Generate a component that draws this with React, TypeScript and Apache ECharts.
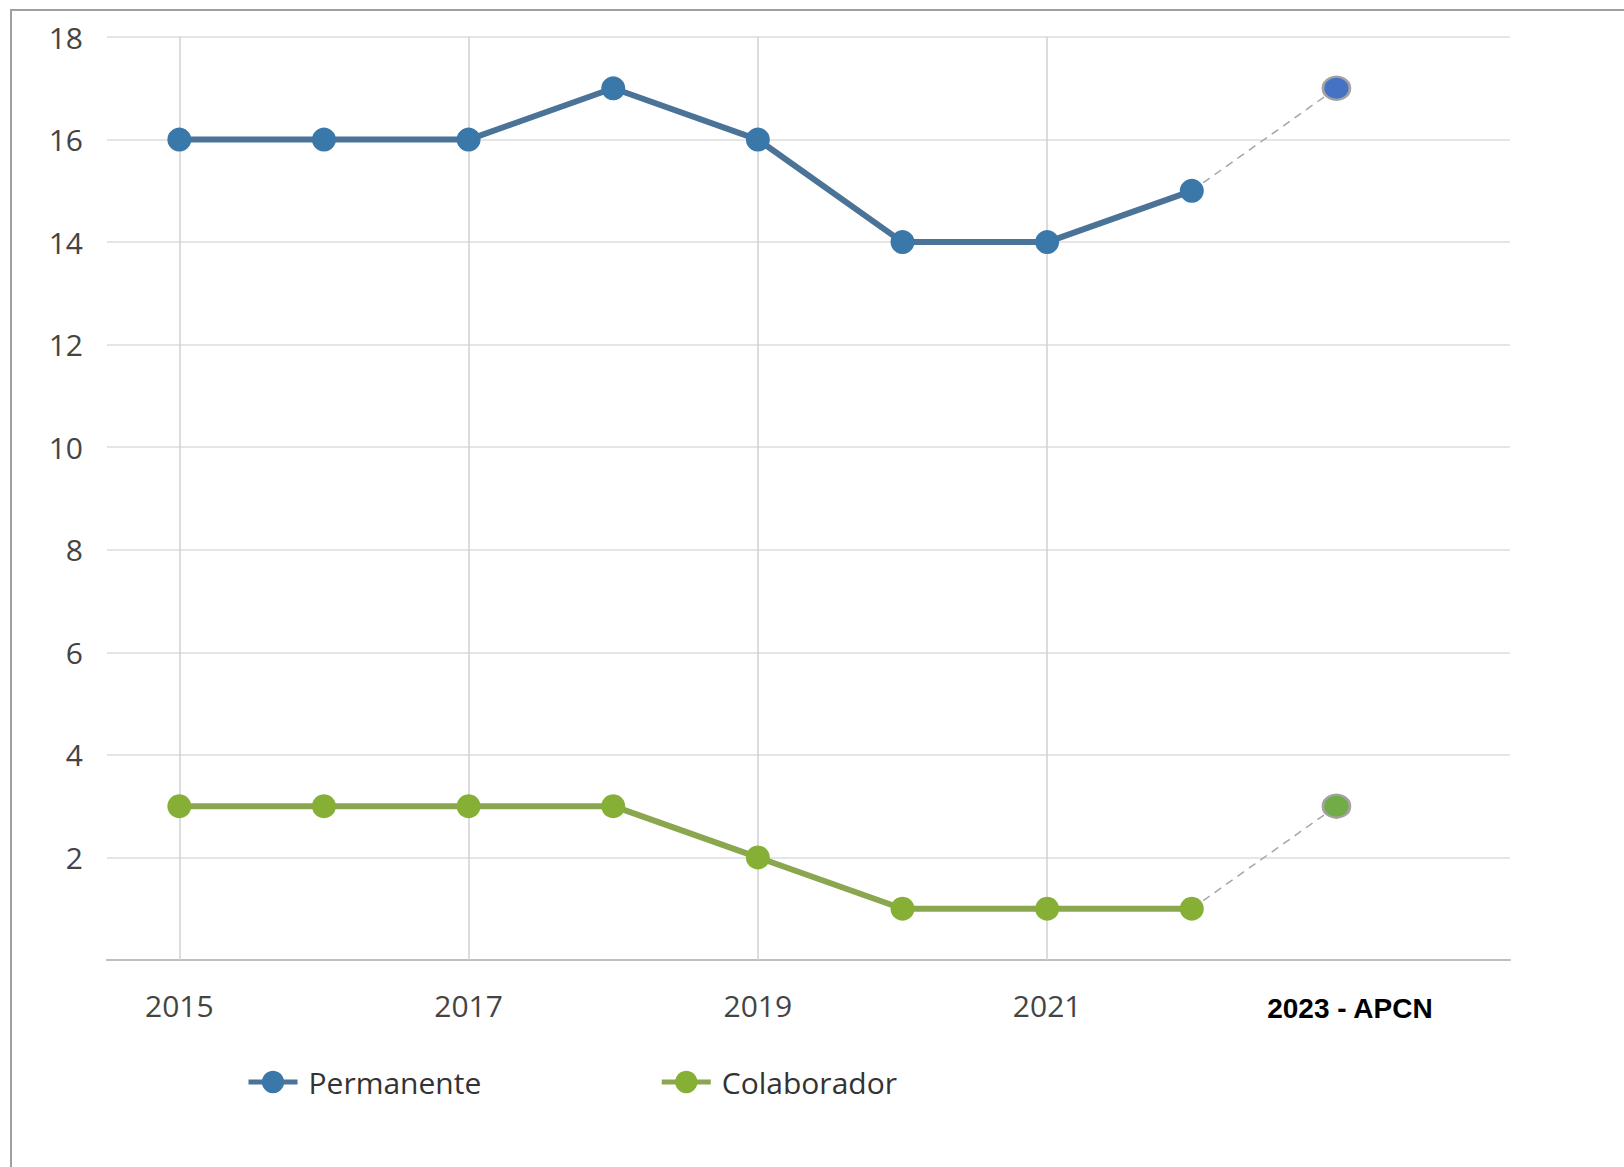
import React, { useEffect, useRef } from "react";
import * as echarts from "echarts";

const years = [2015, 2016, 2017, 2018, 2019, 2020, 2021, 2022];
const permanente = [16, 16, 16, 17, 16, 14, 14, 15];
const colaborador = [3, 3, 3, 3, 2, 1, 1, 1];
const projectionYear = 2023;
const permanente2023 = 17;
const colaborador2023 = 3;
const xLabelYears = [2015, 2017, 2019, 2021, 2023];
const gridYears = [2015, 2017, 2019, 2021];
const projectionLabel = "2023 - APCN";

const FONT = "'Open Sans', 'DejaVu Sans', sans-serif";

export default function App() {
  const ref = useRef<HTMLDivElement>(null);

  useEffect(() => {
    if (!ref.current) return;
    const chart = echarts.init(ref.current, null, { renderer: "svg" });
    const pairs = (vals: number[]) => years.map((y, i) => [y, vals[i]]);
    const projection = (lastVal: number, val: number, color: string) => [
      { value: [years[years.length - 1], lastVal], symbol: "none" },
      {
        value: [projectionYear, val],
        symbol: "circle",
        symbolSize: [27, 23],
        itemStyle: { color, borderColor: "#a3a3a3", borderWidth: 2.5 },
      },
    ];
    chart.setOption({
      animation: false,
      textStyle: { fontFamily: FONT },
      graphic: [
        {
          type: "rect",
          shape: { x: 11, y: 10, width: 1700, height: 1300 },
          style: { fill: "none", stroke: "#a0a0a0", lineWidth: 2 },
          silent: true,
          z: -10,
        },
      ],
      grid: { left: 107, right: 114, top: 37, bottom: 207, containLabel: false },
      legend: {
        data: ["Permanente", "Colaborador"],
        left: 246,
        top: 1067,
        padding: 0,
        itemWidth: 49,
        itemHeight: 28,
        itemGap: 178,
        lineStyle: { width: 5 },
        textStyle: { fontSize: 30, color: "#333", fontFamily: FONT, padding: [0, 0, 0, 6] },
      },
      xAxis: {
        type: "value",
        min: 2014.5,
        max: 2024.2,
        axisLine: { show: true, lineStyle: { color: "#bdbdbd", width: 2 } },
        axisTick: { show: false, customValues: xLabelYears },
        splitLine: { show: false },
        axisLabel: {
          customValues: xLabelYears,
          margin: 30,
          fontSize: 30,
          color: "#444",
          fontFamily: FONT,
          formatter: (v: number) =>
            v === projectionYear ? "{b|" + projectionLabel + "}" : String(v),
          rich: {
            b: {
              fontSize: 28,
              fontWeight: "bold",
              color: "#000",
              fontFamily: "'Liberation Sans', 'Open Sans', sans-serif",
              padding: [4, 0, 0, 27],
            },
          },
        },
      },
      yAxis: {
        type: "value",
        min: 0,
        max: 18,
        interval: 2,
        axisLine: { show: false },
        axisTick: { show: false },
        splitLine: { lineStyle: { color: "#dcdcdc", width: 1.5 } },
        axisLabel: {
          showMinLabel: false,
          margin: 24,
          fontSize: 30,
          color: "#444",
          fontFamily: FONT,
        },
      },
      series: [
        {
          name: "gridYears",
          type: "line",
          data: [],
          z: 0,
          silent: true,
          markLine: {
            silent: true,
            symbol: "none",
            label: { show: false },
            lineStyle: { color: "#d0d0d0", width: 1.5, type: "solid" },
            data: gridYears.map((y) => ({ xAxis: y })),
          },
        },
        {
          name: "Permanente",
          type: "line",
          data: pairs(permanente),
          symbol: "circle",
          symbolSize: 24,
          lineStyle: { color: "#4a7397", width: 6 },
          itemStyle: { color: "#3b78aa" },
          z: 5,
        },
        {
          name: "Colaborador",
          type: "line",
          data: pairs(colaborador),
          symbol: "circle",
          symbolSize: 24,
          lineStyle: { color: "#8aa64e", width: 6 },
          itemStyle: { color: "#86b035" },
          z: 5,
        },
        {
          name: "Permanente 2023",
          type: "line",
          data: projection(permanente[permanente.length - 1], permanente2023, "#4472c4"),
          lineStyle: { color: "#a6a6a6", width: 1.5, type: [8, 6] },
          z: 4,
        },
        {
          name: "Colaborador 2023",
          type: "line",
          data: projection(colaborador[colaborador.length - 1], colaborador2023, "#70ad47"),
          lineStyle: { color: "#a6a6a6", width: 1.5, type: [8, 6] },
          z: 4,
        },
      ],
    });
    return () => chart.dispose();
  }, []);

  return (
    <div
      ref={ref}
      style={{ position: "fixed", left: 0, top: 0, width: 1624, height: 1167, background: "#fff" }}
    />
  );
}
